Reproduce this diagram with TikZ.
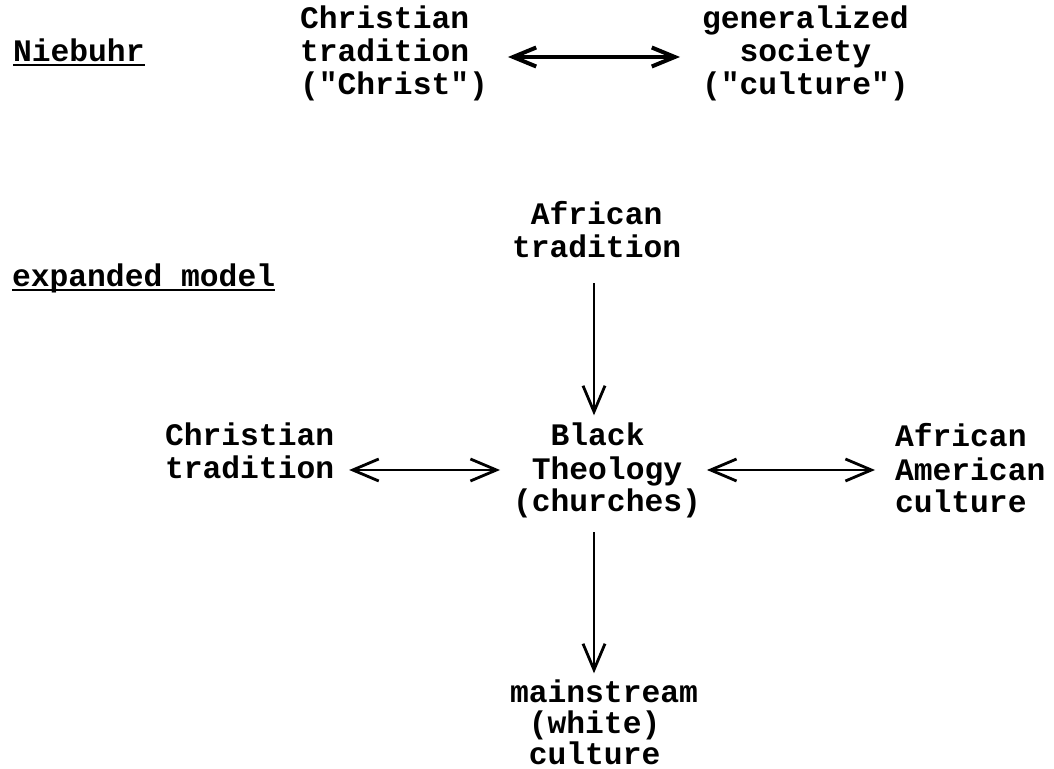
\documentclass[tikz,border=0pt]{standalone}
\usepackage{fontspec}
\setmonofont{Liberation Mono}
\usetikzlibrary{arrows.meta}
\newcommand{\tsp}{\phantom{x}}
\begin{document}
\begin{tikzpicture}[x=0.5pt,y=-0.5pt,
  txt/.style={font=\ttfamily\bfseries\fontsize{15.66}{16.5}\selectfont, inner sep=0pt, outer sep=0pt, align=left, anchor=base west},
  >={Straight Barb[length=13pt,width=11pt]},
  conn/.style={line width=1.4pt},
  topconn/.style={line width=1.7pt, >={Straight Barb[length=11.5pt,width=9.5pt,line width=2pt]}},
  uline/.style={line width=1.3pt}]

\useasboundingbox (0,0) rectangle (1054,769);
\coordinate (r1) at (0,57);
\coordinate (r2) at (0,470);
\coordinate (axis) at (594,0);

% anchor base west = baseline of the last line
\node[txt] (nieb) at (13,62) {Niebuhr};
\node[txt] (ct) at (300,95) {Christian\\tradition\\("Christ")};
\node[txt] (gs) at (702,95) {generalized\\\tsp\tsp society\\("culture")};

\node[txt] (em) at (12,287) {expanded model};
\node[txt] (af) at (512,258) {\tsp African\\tradition};
\node[txt] (ch) at (165,479) {Christian\\tradition};
\node[txt] (bt) at (513,512) {\tsp\tsp Black\\\tsp Theology\\(churches)};
\node[txt] (aa) at (895,513) {African\\American\\culture};
\node[txt] (ms) at (510,764) {mainstream\\[-1pt]\tsp(white)\\[-1pt]\tsp culture};

\draw[uline] ([yshift=-1.5pt]nieb.base west) -- ([yshift=-1.5pt]nieb.base east);
\draw[uline] ([yshift=-1.5pt]em.base west) -- ([yshift=-1.5pt]em.base east);

\draw[topconn,<->,shorten <=10pt,shorten >=11pt] (ct.east |- r1) -- (gs.west |- r1);
\draw[conn,->,shorten <=12.5pt,shorten >=4pt] (axis |- af.south) -- (axis |- bt.north);
\draw[conn,<->,shorten <=7.5pt,shorten >=6.5pt] (ch.east |- r2) -- (bt.west |- r2);
\draw[conn,<->,shorten <=3pt,shorten >=10pt] (bt.east |- r2) -- (aa.west |- r2);
\draw[conn,->,shorten <=7pt,shorten >=3pt] (axis |- bt.south) -- (axis |- ms.north);
\end{tikzpicture}
\end{document}
